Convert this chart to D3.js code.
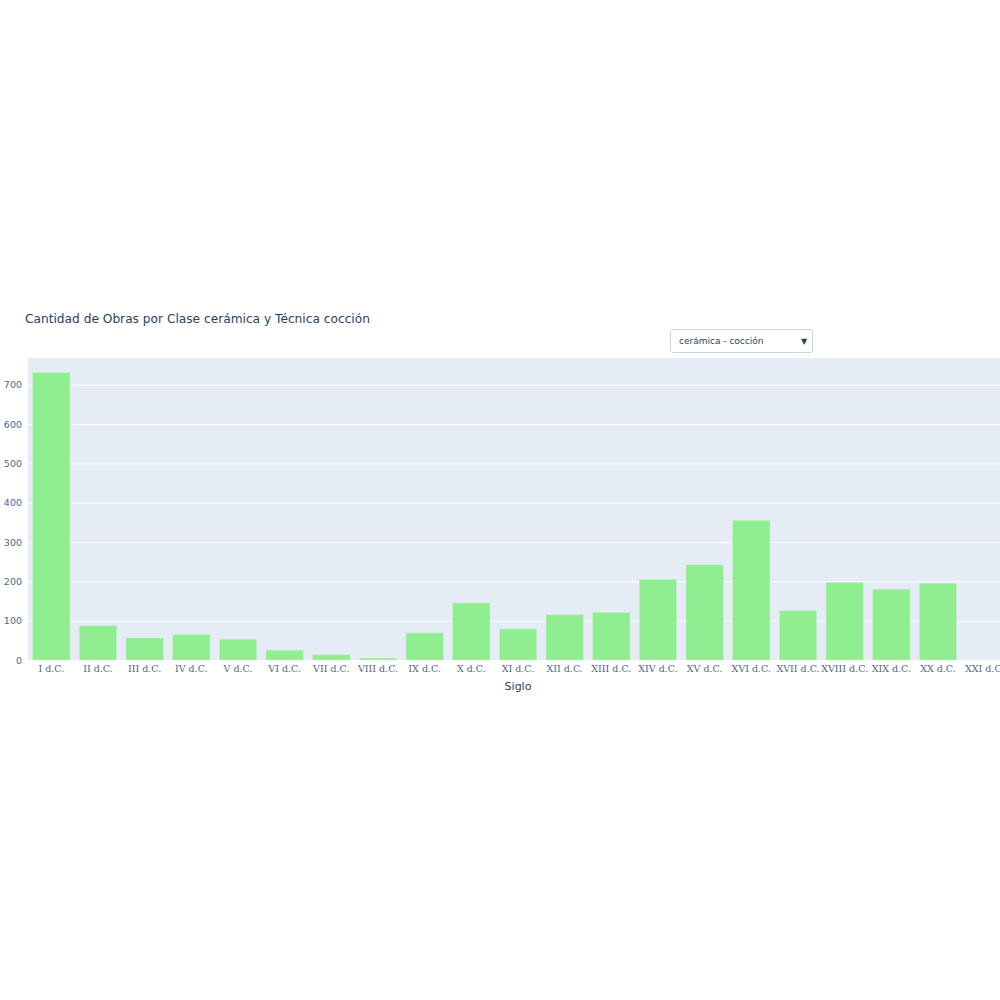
<!DOCTYPE html>
<html><head><meta charset="utf-8">
<script src="https://cdn.jsdelivr.net/npm/d3@7"></script>
<style>body{margin:0;background:#fff;overflow:hidden}</style>
</head><body>
<svg id="c" width="1000" height="1000"></svg>
<script>
const categories = ["I d.C.","II d.C.","III d.C.","IV d.C.","V d.C.","VI d.C.","VII d.C.","VIII d.C.","IX d.C.","X d.C.","XI d.C.","XII d.C.","XIII d.C.","XIV d.C.","XV d.C.","XVI d.C.","XVII d.C.","XVIII d.C.","XIX d.C.","XX d.C.","XXI d.C."];
const values = [731,87,56,65,53,25,13,5,69,145,79,115,121,205,242,355,125,197,180,195,0];
const yTicks = [0,100,200,300,400,500,600,700];
const titleText = "Cantidad de Obras por Clase cerámica y Técnica cocción";
const dropdownText = "cerámica - cocción";
const xTitle = "Siglo";

const svg = d3.select("#c");
const L = 28, R = 1008, T = 358, B = 660;
const x = d3.scaleBand().domain(categories).range([L, R]).paddingInner(0.2).paddingOuter(0.1);
const y = d3.scaleLinear().domain([0, 768]).range([B, T]);

svg.append("rect").attr("x", L).attr("y", T).attr("width", R - L).attr("height", B - T).attr("fill", "#e5ecf6");

const gy = svg.append("g").attr("transform", `translate(${L},0)`)
  .call(d3.axisLeft(y).tickValues(yTicks).tickSize(-(R - L)).tickPadding(6));
gy.select(".domain").remove();
gy.selectAll(".tick line").attr("stroke", "#fff").attr("stroke-width", 1);
gy.selectAll(".tick text").attr("fill", "#506784").attr("font-family", "DejaVu Sans, Verdana, sans-serif").attr("font-size", 9.5);

svg.append("g").selectAll("rect").data(categories).join("rect")
  .attr("x", d => x(d)).attr("width", x.bandwidth())
  .attr("y", (d, i) => y(values[i])).attr("height", (d, i) => B - y(values[i]))
  .attr("fill", "#90ee90").attr("stroke", "#c8f0c8").attr("stroke-width", 0.5);

const gx = svg.append("g").attr("transform", `translate(0,${B})`)
  .call(d3.axisBottom(x).tickSize(0).tickPadding(5));
gx.select(".domain").remove();
gx.selectAll(".tick text").attr("fill", "#506784").attr("font-family", "DejaVu Serif, Liberation Serif, serif").attr("font-size", 9.5);

svg.append("text").attr("x", 518).attr("y", 690).attr("text-anchor", "middle")
  .attr("fill", "#2a3f5f").attr("font-family", "DejaVu Sans, Verdana, sans-serif").attr("font-size", 11).text(xTitle);

svg.append("text").attr("x", 25).attr("y", 323)
  .attr("fill", "#2a3f5f").attr("font-family", "DejaVu Sans, Verdana, sans-serif").attr("font-size", 12.2).text(titleText);

const dd = svg.append("g");
dd.append("rect").attr("x", 670.5).attr("y", 329.5).attr("width", 142).attr("height", 23).attr("rx", 2)
  .attr("fill", "#fff").attr("stroke", "#c8d4e3").attr("stroke-width", 1);
dd.append("text").attr("x", 679).attr("y", 344).attr("fill", "#2a3f5f")
  .attr("font-family", "DejaVu Sans, Verdana, sans-serif").attr("font-size", 9).text(dropdownText);
dd.append("text").attr("x", 804).attr("y", 343.5).attr("text-anchor", "middle").attr("fill", "#2a3f5f")
  .attr("font-family", "DejaVu Sans, sans-serif").attr("font-size", 8).text("▼");
</script>
</body></html>
